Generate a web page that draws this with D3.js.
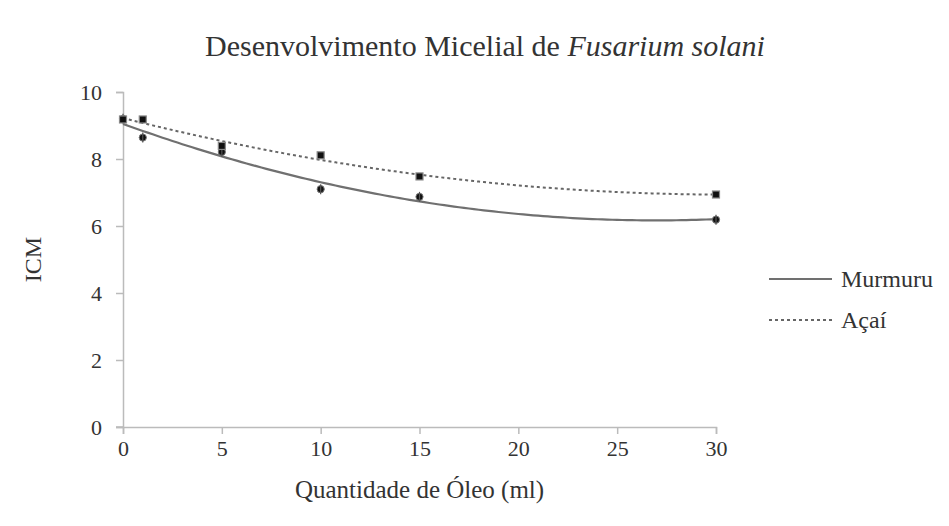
<!DOCTYPE html>
<html>
<head>
<meta charset="utf-8">
<script src="https://cdn.jsdelivr.net/npm/d3@7"></script>
<style>
  body { margin: 0; background: #fff; }
  text { font-family: "Liberation Serif", "Times New Roman", serif; fill: #333; }
</style>
</head>
<body>
<div id="chart"></div>
<script>
/* Data */
var doses = [0, 1, 5, 10, 15, 30];
var murmuru = [9.2, 8.64, 8.21, 7.10, 6.87, 6.19];
var acai = [9.18, 9.18, 8.39, 8.11, 7.48, 6.94];
var seriesNames = ["Murmuru", "Açaí"];
var xTicks = [0, 5, 10, 15, 20, 25, 30];
var yTicks = [0, 2, 4, 6, 8, 10];

var width = 949, height = 526;
var margin = {left: 123, right: 233, top: 92, bottom: 99};

var svg = d3.select("#chart").append("svg")
    .attr("width", width)
    .attr("height", height);

var x = d3.scaleLinear().domain([0, 30]).range([margin.left, width - margin.right]);
var y = d3.scaleLinear().domain([0, 10]).range([height - margin.bottom, margin.top]);

// least squares quadratic, like the spreadsheet trendline
function quadFit(xs, ys) {
    var n = xs.length, s = [0, 0, 0, 0, 0], t = [0, 0, 0];
    for (var i = 0; i < n; i++) {
        for (var k = 0; k < 5; k++) s[k] += Math.pow(xs[i], k);
        for (var k = 0; k < 3; k++) t[k] += ys[i] * Math.pow(xs[i], k);
    }
    var A = [[s[0], s[1], s[2], t[0]], [s[1], s[2], s[3], t[1]], [s[2], s[3], s[4], t[2]]];
    for (var c = 0; c < 3; c++) {
        for (var r = c + 1; r < 3; r++) {
            var f = A[r][c] / A[c][c];
            for (var j = c; j < 4; j++) A[r][j] -= f * A[c][j];
        }
    }
    var b = [0, 0, 0];
    for (var r = 2; r >= 0; r--) {
        var v = A[r][3];
        for (var j = r + 1; j < 3; j++) v -= A[r][j] * b[j];
        b[r] = v / A[r][r];
    }
    return function (v) { return b[0] + b[1] * v + b[2] * v * v; };
}

/* Axes */
var axisColor = "#bbb";
var xAxis = svg.append("g")
    .attr("transform", "translate(0," + y(0) + ")")
    .call(d3.axisBottom(x).tickValues(xTicks).tickSize(7).tickPadding(6));
var yAxis = svg.append("g")
    .attr("transform", "translate(" + x(0) + ",0)")
    .call(d3.axisLeft(y).tickValues(yTicks).tickSize(7).tickPadding(14));

[xAxis, yAxis].forEach(function (a) {
    a.select(".domain").attr("stroke", axisColor).attr("stroke-width", 1.5);
    a.selectAll(".tick line").attr("stroke", axisColor).attr("stroke-width", 1.5);
    a.selectAll(".tick text").style("font-family", "Liberation Serif, serif")
        .style("font-size", "22px").attr("fill", "#333");
});
// x-axis line runs to the left tick end
svg.append("line")
    .attr("x1", x(0) - 7).attr("x2", x(0))
    .attr("y1", y(0)).attr("y2", y(0))
    .attr("stroke", axisColor).attr("stroke-width", 1.5);

/* Trendlines */
var fits = [quadFit(doses, murmuru), quadFit(doses, acai)];
var styles = [
    {stroke: "#707070", width: 2.2, dash: null},
    {stroke: "#666", width: 2, dash: "3,3"}
];
var samples = d3.range(0, 30.01, 0.25);
fits.forEach(function (f, i) {
    svg.append("path")
        .datum(samples)
        .attr("fill", "none")
        .attr("stroke", styles[i].stroke)
        .attr("stroke-width", styles[i].width)
        .attr("stroke-dasharray", styles[i].dash)
        .attr("d", d3.line().x(function (d) { return x(d); }).y(function (d) { return y(f(d)); }));
});

/* Markers */
svg.append("g").selectAll("g")
    .data(doses.map(function (d, i) { return [d, murmuru[i]]; }))
    .enter().append("g")
    .attr("transform", function (d) { return "translate(" + x(d[0]) + "," + y(d[1]) + ")"; })
    .each(function () {
        var g = d3.select(this);
        g.append("circle").attr("r", 3.6).attr("fill", "#111").attr("stroke", "#777").attr("stroke-width", 1);
        g.append("line").attr("x1", 0).attr("x2", 0).attr("y1", -5).attr("y2", 5).attr("stroke", "#555").attr("stroke-width", 1.2);
    });

svg.append("g").selectAll("rect")
    .data(doses.map(function (d, i) { return [d, acai[i]]; }))
    .enter().append("rect")
    .attr("x", function (d) { return x(d[0]) - 3.5; })
    .attr("y", function (d) { return y(d[1]) - 3.5; })
    .attr("width", 7).attr("height", 7)
    .attr("fill", "#111").attr("stroke", "#888").attr("stroke-width", 1.2);

/* Legend */
var legend = svg.append("g");
seriesNames.forEach(function (name, i) {
    var ly = 279 + i * 41;
    legend.append("line")
        .attr("x1", 769).attr("x2", 832).attr("y1", ly).attr("y2", ly)
        .attr("stroke", styles[i].stroke).attr("stroke-width", styles[i].width)
        .attr("stroke-dasharray", styles[i].dash);
    legend.append("text")
        .attr("x", 841).attr("y", ly + 8)
        .style("font-size", "24px")
        .text(name);
});

/* Titles */
var title = svg.append("text")
    .attr("x", 485).attr("y", 56)
    .attr("text-anchor", "middle")
    .style("font-size", "30px");
title.append("tspan").text("Desenvolvimento Micelial  de ");
title.append("tspan").style("font-style", "italic").text("Fusarium solani");

svg.append("text")
    .attr("x", (x(0) + x(30)) / 2).attr("y", 498)
    .attr("text-anchor", "middle")
    .style("font-size", "25px")
    .text("Quantidade de Óleo (ml)");

svg.append("text")
    .attr("transform", "translate(41," + y(5) + ") rotate(-90)")
    .attr("text-anchor", "middle")
    .style("font-size", "24px")
    .text("ICM");
</script>
</body>
</html>
